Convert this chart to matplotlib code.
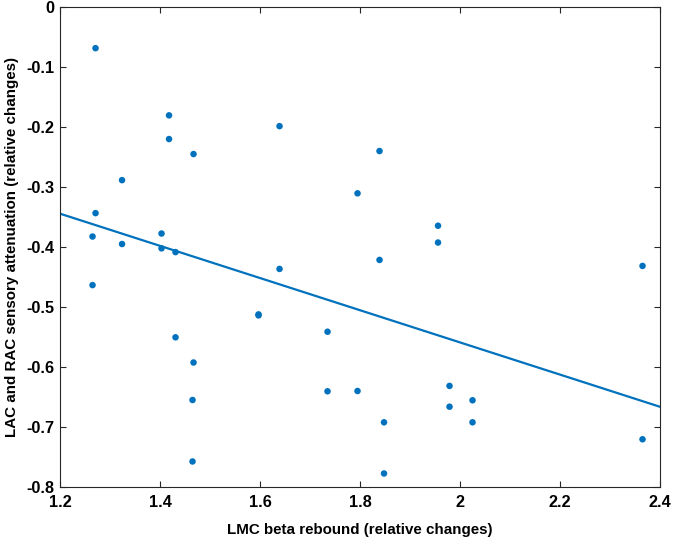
import numpy as np
import matplotlib
matplotlib.use("Agg")
import matplotlib.pyplot as plt

# values (pairs share the same x)
beta_rebound = [1.271, 1.271, 1.418, 1.418, 1.467, 1.467, 1.639, 1.639,
                1.324, 1.324, 1.265, 1.265, 1.403, 1.403, 1.431, 1.431,
                1.839, 1.839, 1.795, 1.795, 1.956, 1.956, 2.365, 2.365,
                1.597, 1.597, 1.465, 1.465, 1.735, 1.735, 1.979, 1.979,
                2.025, 2.025, 1.848, 1.848]
attenuation = [-0.069, -0.344, -0.181, -0.2205, -0.2455, -0.593, -0.199, -0.437,
               -0.289, -0.3955, -0.383, -0.464, -0.378, -0.4027, -0.409, -0.551,
               -0.2405, -0.422, -0.311, -0.6405, -0.365, -0.393, -0.432, -0.721,
               -0.5128, -0.5145, -0.6555, -0.758, -0.5417, -0.641, -0.632, -0.6667,
               -0.656, -0.6927, -0.6927, -0.778]
x_ticks = [1.2, 1.4, 1.6, 1.8, 2.0, 2.2, 2.4]
x_tick_labels = ["1.2", "1.4", "1.6", "1.8", "2", "2.2", "2.4"]
y_ticks = [-0.8, -0.7, -0.6, -0.5, -0.4, -0.3, -0.2, -0.1, 0]
y_tick_labels = ["-0.8", "-0.7", "-0.6", "-0.5", "-0.4", "-0.3", "-0.2", "-0.1", "0"]

plt.rcParams['font.family'] = ['Liberation Sans', 'DejaVu Sans']
blue = '#0072BD'

fig = plt.figure(figsize=(6.73, 5.38), dpi=100)
ax = fig.add_axes([0.0892, 0.0954, 0.8915, 0.892])

x = np.array(beta_rebound)
y = np.array(attenuation)
ax.scatter(x, y, s=22, color=blue, edgecolors='none', zorder=3)

# least squares line, same as matlab lsline
slope, intercept = np.polyfit(x, y, 1)
xl = np.array([1.2, 2.4])
ax.plot(xl, slope * xl + intercept, color=blue, lw=1.6, zorder=2)

ax.set_xlim(1.2, 2.4)
ax.set_ylim(-0.8, 0)
ax.set_xticks(x_ticks)
ax.set_xticklabels(x_tick_labels)
ax.set_yticks(y_ticks)
ax.set_yticklabels(y_tick_labels)
ax.tick_params(direction='in', top=True, right=True, length=4, width=0.8,
               color='#262626', labelsize=11.7)
ax.tick_params(axis='x', pad=6)
ax.tick_params(axis='y', pad=4)
for lab in ax.get_xticklabels() + ax.get_yticklabels():
    lab.set_fontweight('bold')
for sp in ax.spines.values():
    sp.set_color('#262626')
    sp.set_linewidth(0.8)

ax.set_xlabel('LMC beta rebound (relative changes)', fontsize=10.9, fontweight='bold', labelpad=9)
ax.set_ylabel('LAC and RAC sensory attenuation (relative changes)', fontsize=10.9, fontweight='bold', labelpad=5)

fig.savefig('out.png', dpi=100)
